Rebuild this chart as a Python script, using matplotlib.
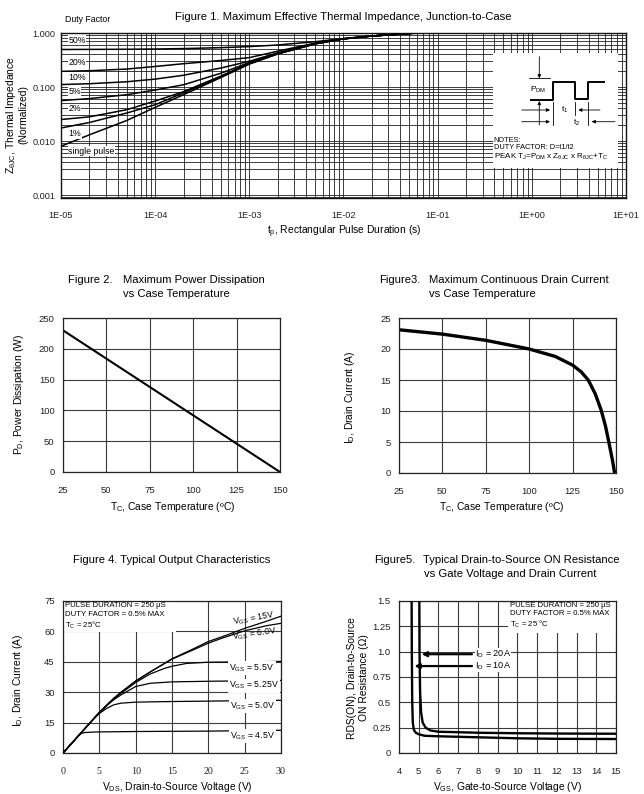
import matplotlib
matplotlib.use("Agg")
import matplotlib.pyplot as plt
from matplotlib.ticker import LogLocator, FixedLocator, NullFormatter
from matplotlib.patches import Rectangle

plt.rcParams['font.family'] = ['Liberation Sans', 'DejaVu Sans']
plt.rcParams['mathtext.fontset'] = 'custom'
plt.rcParams['mathtext.rm'] = 'Liberation Sans'
plt.rcParams['mathtext.it'] = 'Liberation Sans:italic'
plt.rcParams['mathtext.bf'] = 'Liberation Sans:bold'

W, H = 644, 794

# --- Figure 1: thermal impedance vs pulse duration ---
zth_tp = [1e-5, 2e-5, 5e-5, 1e-4, 2e-4, 5e-4, 1e-3, 2e-3, 5e-3, 1e-2, 2e-2, 6e-2]
zth_50 = [0.495, 0.497, 0.500, 0.505, 0.515, 0.535, 0.56, 0.60, 0.69, 0.79, 0.88, 1.0]
zth_20 = [0.195, 0.200, 0.215, 0.240, 0.270, 0.310, 0.35, 0.46, 0.65, 0.78, 0.88, 1.0]
zth_10 = [0.111, 0.115, 0.125, 0.140, 0.165, 0.225, 0.30, 0.43, 0.64, 0.78, 0.88, 1.0]
zth_5 = [0.056, 0.061, 0.072, 0.088, 0.110, 0.180, 0.285, 0.42, 0.635, 0.78, 0.88, 1.0]
zth_2 = [0.025, 0.028, 0.038, 0.055, 0.082, 0.160, 0.275, 0.415, 0.63, 0.78, 0.88, 1.0]
zth_1 = [0.0174, 0.022, 0.033, 0.047, 0.078, 0.155, 0.27, 0.41, 0.63, 0.78, 0.88, 1.0]
zth_single = [0.008, 0.013, 0.024, 0.042, 0.072, 0.150, 0.265, 0.41, 0.63, 0.78, 0.88, 1.0]
duty_labels = ["50%", "20%", "10%", "5%", "2%", "1%", "single pulse"]
duty_label_y = [0.74, 0.29, 0.152, 0.0835, 0.0397, 0.0135, 0.0065]
zth_xticks = [1e-5, 1e-4, 1e-3, 1e-2, 1e-1, 1e0, 1e1]
zth_xticklabels = ["1E-05", "1E-04", "1E-03", "1E-02", "1E-01", "1E+00", "1E+01"]
zth_yticks = [0.001, 0.01, 0.1, 1.0]
zth_yticklabels = ["0.001", "0.010", "0.100", "1.000"]

# --- Figure 2: power dissipation ---
pd_tc = [25, 150]
pd_w = [230, 0]

# --- Figure 3: drain current vs case temperature ---
id_tc = [25, 50, 75, 100, 115, 125, 130, 134, 138, 141.5, 144, 146, 148, 149.2]
id_a = [23.1, 22.4, 21.4, 20.0, 18.8, 17.4, 16.3, 15.0, 12.8, 10.1, 7.5, 4.8, 2.0, 0.0]
tc_ticks = [25, 50, 75, 100, 125, 150]

# --- Figure 4: output characteristics ---
vds_15 = [0, 1, 2, 3, 4, 5, 6, 7, 8, 10, 12, 15, 18, 20, 22, 25, 28, 30]
id_15 = [0, 4, 8, 12, 16, 20, 23.5, 27, 30, 35.5, 40, 46.5, 51.5, 55, 57.5, 61.5, 65, 67.5]
vds_60 = [0, 1, 2, 3, 4, 5, 6, 7, 8, 10, 12, 15, 18, 20, 22, 25, 28, 30]
id_60 = [0, 4, 8, 12, 16, 20, 23.5, 27, 30, 35.5, 40, 46.3, 51, 54.2, 56.8, 60.3, 62.8, 64]
vds_55 = [0, 1, 2, 3, 4, 5, 6, 7, 8, 10, 12, 14, 15, 17, 20, 25, 30]
id_55 = [0, 4, 8, 12, 16, 20, 23.5, 26.8, 29.5, 34.8, 39, 41.8, 42.8, 44.2, 44.8, 45, 45.2]
vds_525 = [0, 1, 2, 3, 4, 5, 6, 7, 8, 10, 12, 15, 20, 30]
id_525 = [0, 4, 8, 12, 16, 20, 23.3, 26.3, 28.7, 32.8, 34.4, 35.1, 35.4, 35.8]
vds_50 = [0, 1, 2, 3, 4, 5, 6, 7, 8, 10, 15, 20, 30]
id_50 = [0, 4, 8, 12, 16, 19.5, 22, 23.8, 24.6, 25.1, 25.4, 25.6, 26.0]
vds_45 = [0, 1, 2, 2.5, 3, 4, 5, 10, 20, 30]
id_45 = [0, 4, 8, 9.6, 10.1, 10.3, 10.4, 10.6, 10.8, 11.2]
vgs_labels = ["15V", "6.0V", "5.5V", "5.25V", "5.0V", "4.5V"]
vgs_label_pos = [(26.3, 66.3), (26.4, 58.7), (26.0, 42.0), (26.3, 33.2), (26.1, 23.3), (26.1, 8.4)]
vgs_label_rot = [10, 8, 0, 0, 0, 0]

# --- Figure 5: on resistance vs gate voltage ---
vgs_10a = [4.64, 4.65, 4.67, 4.70, 4.75, 4.85, 5.0, 5.3, 6, 8, 10, 12, 15]
rds_10a = [1.5, 1.0, 0.5, 0.30, 0.23, 0.20, 0.185, 0.17, 0.165, 0.155, 0.145, 0.14, 0.138]
vgs_20a = [5.03, 5.04, 5.07, 5.12, 5.20, 5.35, 5.6, 6, 7, 8, 10, 12, 15]
rds_20a = [1.5, 1.0, 0.6, 0.40, 0.30, 0.25, 0.222, 0.21, 0.205, 0.20, 0.195, 0.192, 0.19]
rds_yticks = [0, 0.25, 0.5, 0.75, 1.0, 1.25, 1.5]
rds_yticklabels = ["0", "0.25", "0.5", "0.75", "1.0", "1.25", "1.5"]

fig = plt.figure(figsize=(W / 100, H / 100), dpi=100)


def frac(l, t, r, b):
    return [l / W, 1 - b / H, (r - l) / W, (b - t) / H]


def ftext(x, y, s, **kw):
    fig.text(x / W, 1 - y / H, s, **kw)


def style(ax, gcol="#3a3a3a", glw=0.8):
    for sp in ax.spines.values():
        sp.set_linewidth(0.9)
        sp.set_color("#222222")
    ax.tick_params(length=0, labelsize=6.8, colors="#222222")
    ax.grid(True, color=gcol, lw=glw)
    ax.set_axisbelow(True)


TITLE = 8.1
LABEL = 7.4

# ================= Figure 1 =================
ax1 = fig.add_axes(frac(61, 33, 626, 198))
ax1.set_xscale("log")
ax1.set_yscale("log")
ax1.set_xlim(1e-5, 1e1)
ax1.set_ylim(0.00088, 1.0)
ax1.xaxis.set_major_locator(FixedLocator(zth_xticks))
ax1.xaxis.set_minor_locator(LogLocator(base=10, subs=range(2, 10), numticks=20))
ax1.yaxis.set_major_locator(FixedLocator(zth_yticks))
ax1.yaxis.set_minor_locator(LogLocator(base=10, subs=range(2, 10), numticks=20))
ax1.xaxis.set_minor_formatter(NullFormatter())
ax1.yaxis.set_minor_formatter(NullFormatter())
ax1.set_xticklabels(zth_xticklabels)
ax1.set_yticklabels(zth_yticklabels)
for sp in ax1.spines.values():
    sp.set_linewidth(1.0)
    sp.set_color("#111111")
ax1.tick_params(which="both", length=0, labelsize=6.6, colors="#222222")
ax1.tick_params(axis="x", pad=9)
ax1.tick_params(axis="y", pad=4)
ax1.grid(True, which="both", color="#1e1e1e", lw=0.6)
ax1.set_axisbelow(True)
for ys in [zth_50, zth_20, zth_10, zth_5, zth_2, zth_1, zth_single]:
    ax1.plot(zth_tp, ys, color="black", lw=1.1, zorder=3)
for lab, yv in zip(duty_labels, duty_label_y):
    ax1.text(1.2e-5, yv, lab, fontsize=6.3, va="center", ha="left",
             bbox=dict(facecolor="white", edgecolor="none", pad=0.4), zorder=4)
ftext(65, 19, "Duty Factor", fontsize=6.3, va="center")
ftext(343, 17, "Figure 1. Maximum Effective Thermal Impedance, Junction-to-Case",
      fontsize=TITLE, ha="center", va="center")
ftext(344, 232, r"t$_\mathregular{p}$, Rectangular Pulse Duration (s)",
      fontsize=LABEL, ha="center", va="center")
ftext(11, 115, r"Z$_{\mathregular{\theta JC}}$, Thermal Impedance",
      fontsize=LABEL, ha="center", va="center", rotation=90)
ftext(23, 115, "(Normalized)", fontsize=LABEL, ha="center", va="center", rotation=90)

# notes box with pulse sketch (pixel-like coordinates inside the box)
axn = fig.add_axes(frac(493, 53, 618, 168))
axn.set_xlim(0, 125)
axn.set_ylim(115, 0)
axn.set_facecolor("white")
axn.set_xticks([])
axn.set_yticks([])
for sp in axn.spines.values():
    sp.set_visible(False)
pulse_x = [38, 60.3, 60.3, 82, 82, 95.3, 95.3, 111]
pulse_y = [47, 47, 29.3, 29.3, 46, 46, 29.3, 29.3]
axn.plot(pulse_x, pulse_y, color="black", lw=1.4)
axn.plot([36.3, 57], [25.3, 25.3], color="black", lw=0.6)
for xs, ys in [([60.3, 60.3], [48.7, 72]), ([82, 82], [48.7, 62]), ([95.3, 95.3], [48.7, 72])]:
    axn.plot(xs, ys, color="black", lw=0.6)
arr = dict(arrowstyle="-|>", color="black", lw=0.6, mutation_scale=5, shrinkA=0, shrinkB=0)
for (x0, y0), (x1, y1) in [((46.3, 3.7), (46.3, 25.3)), ((46.3, 72), (46.3, 48)),
                           ((28.7, 57), (57, 57)), ((107, 57), (85.3, 57)),
                           ((28.7, 68.7), (57, 68.7)), ((122, 68.7), (98.7, 68.7))]:
    axn.annotate("", xy=(x1, y1), xytext=(x0, y0), arrowprops=arr)
axn.text(45.3, 37, r"P$_\mathregular{DM}$", fontsize=6, ha="center", va="center")
axn.text(71.3, 57, r"t$_\mathregular{1}$", fontsize=6, ha="center", va="center")
axn.text(83.7, 70, r"t$_\mathregular{2}$", fontsize=6, ha="center", va="center")
axn.text(0.5, 87, "NOTES:", fontsize=5.3, va="center")
axn.text(0.5, 94.7, "DUTY FACTOR: D=t1/t2", fontsize=5.3, va="center")
axn.text(0.5, 103.7,
         r"PEAK T$_\mathregular{J}$=P$_\mathregular{DM}$ x Z$_{\mathregular{\theta JC}}$"
         r" x R$_{\mathregular{\theta JC}}$+T$_\mathregular{C}$",
         fontsize=5.8, va="center")

# ================= Figure 2 =================
ax2 = fig.add_axes(frac(63, 318, 280, 472))
style(ax2)
ax2.set_xlim(25, 150)
ax2.set_ylim(0, 250)
ax2.set_xticks(tc_ticks)
ax2.set_yticks([0, 50, 100, 150, 200, 250])
ax2.tick_params(axis="x", pad=10)
ax2.tick_params(axis="y", pad=6)
ax2.plot(pd_tc, pd_w, color="black", lw=1.5)
ftext(68, 280, "Figure 2.", fontsize=TITLE, va="center")
ftext(123, 280, "Maximum Power Dissipation", fontsize=TITLE, va="center")
ftext(123, 294, "vs Case Temperature", fontsize=TITLE, va="center")
ftext(173, 507, r"T$_\mathregular{C}$, Case Temperature (ºC)", fontsize=LABEL,
      ha="center", va="center")
ftext(19, 395, r"P$_\mathregular{D}$, Power Dissipation (W)", fontsize=LABEL,
      ha="center", va="center", rotation=90)

# ================= Figure 3 =================
ax3 = fig.add_axes(frac(399, 318, 616, 473))
style(ax3)
ax3.set_xlim(25, 150)
ax3.set_ylim(0, 25)
ax3.set_xticks(tc_ticks)
ax3.set_yticks([0, 5, 10, 15, 20, 25])
ax3.tick_params(axis="x", pad=10)
ax3.tick_params(axis="y", pad=6)
ax3.plot(id_tc, id_a, color="black", lw=2.4, solid_capstyle="butt")
ftext(379, 280, "Figure3.", fontsize=TITLE, va="center")
ftext(429, 280, "Maximum Continuous Drain Current", fontsize=TITLE, va="center")
ftext(429, 294, "vs Case Temperature", fontsize=TITLE, va="center")
ftext(502, 507, r"T$_\mathregular{C}$, Case Temperature (ºC)", fontsize=LABEL,
      ha="center", va="center")
ftext(350, 397, r"I$_\mathregular{D}$, Drain Current (A)", fontsize=LABEL,
      ha="center", va="center", rotation=90)

# ================= Figure 4 =================
ax4 = fig.add_axes(frac(63, 601, 281, 753))
style(ax4)
ax4.set_xlim(0, 30)
ax4.set_ylim(0, 75)
ax4.set_xticks([0, 5, 10, 15, 20, 25, 30])
ax4.set_yticks([0, 15, 30, 45, 60, 75])
ax4.tick_params(axis="x", pad=10)
ax4.tick_params(axis="y", pad=6)
for lab in ax4.get_xticklabels():
    lab.set_family("Liberation Serif")
    lab.set_fontsize(7.2)
ax4.add_patch(Rectangle((0, 59.5), 15.5, 15.5, facecolor="white", edgecolor="none", zorder=1))
for xs, ys in [(vds_15, id_15), (vds_60, id_60), (vds_55, id_55),
               (vds_525, id_525), (vds_50, id_50), (vds_45, id_45)]:
    ax4.plot(xs, ys, color="black", lw=0.9, zorder=3)
for lab, (xv, yv), rot in zip(vgs_labels, vgs_label_pos, vgs_label_rot):
    ax4.text(xv, yv, r"V$_\mathregular{GS}$ = " + lab, fontsize=6.3, ha="center",
             va="center", rotation=rot, zorder=4,
             bbox=None if rot else dict(facecolor="white", edgecolor="none", pad=0.8))
ax4.text(0.3, 74.3, "PULSE DURATION = 250 µS\nDUTY FACTOR = 0.5% MAX\n"
         r"T$_\mathregular{C}$ = 25°C", fontsize=5.6, va="top", ha="left",
         linespacing=1.25, zorder=4)
ftext(172, 560, "Figure 4. Typical Output Characteristics", fontsize=TITLE,
      ha="center", va="center")
ftext(177, 787, r"V$_\mathregular{DS}$, Drain-to-Source Voltage (V)", fontsize=LABEL,
      ha="center", va="center")
ftext(18, 680, r"I$_\mathregular{D}$, Drain Current (A)", fontsize=LABEL,
      ha="center", va="center", rotation=90)

# ================= Figure 5 =================
ax5 = fig.add_axes(frac(399, 601, 616, 753))
style(ax5)
ax5.set_xlim(4, 15)
ax5.set_ylim(0, 1.5)
ax5.set_xticks(range(4, 16))
ax5.set_yticks(rds_yticks)
ax5.set_yticklabels(rds_yticklabels)
ax5.tick_params(axis="x", pad=10)
ax5.tick_params(axis="y", pad=6)
ax5.add_patch(Rectangle((9.5, 1.18), 5.5, 0.32, facecolor="white", edgecolor="none", zorder=1))
ax5.plot(vgs_10a, rds_10a, color="black", lw=1.7, zorder=3)
ax5.plot(vgs_20a, rds_20a, color="black", lw=1.7, zorder=3)
arr5 = dict(arrowstyle="-|>", color="black", lw=1.6, mutation_scale=7, shrinkA=0, shrinkB=0)
ax5.annotate("", xy=(5.15, 0.975), xytext=(7.7, 0.975), arrowprops=arr5, zorder=4)
ax5.annotate("", xy=(4.78, 0.858), xytext=(7.7, 0.858), arrowprops=arr5, zorder=4)
ax5.text(7.85, 0.975, r"I$_\mathregular{D}$ = 20A", fontsize=6.6, va="center", zorder=4,
         bbox=dict(facecolor="white", edgecolor="none", pad=0.0))
ax5.text(7.85, 0.858, r"I$_\mathregular{D}$ = 10A", fontsize=6.6, va="center", zorder=4,
         bbox=dict(facecolor="white", edgecolor="none", pad=0.0))
ax5.text(9.63, 1.49, "PULSE DURATION = 250 µS\nDUTY FACTOR = 0.5% MAX\n"
         r"T$_\mathregular{C}$ = 25 °C", fontsize=5.6, va="top", ha="left",
         linespacing=1.25, zorder=4)
ftext(374, 560, "Figure5.", fontsize=TITLE, va="center")
ftext(423, 560, "Typical Drain-to-Source ON Resistance", fontsize=TITLE, va="center")
ftext(424, 574, "vs Gate Voltage and Drain Current", fontsize=TITLE, va="center")
ftext(507, 787, r"V$_\mathregular{GS}$, Gate-to-Source Voltage (V)", fontsize=LABEL,
      ha="center", va="center")
ftext(352, 678, "RDS(ON), Drain-to-Source", fontsize=LABEL, ha="center", va="center",
      rotation=90)
ftext(364, 678, "ON Resistance (Ω)", fontsize=LABEL, ha="center", va="center", rotation=90)

fig.savefig("out.png", dpi=100)
